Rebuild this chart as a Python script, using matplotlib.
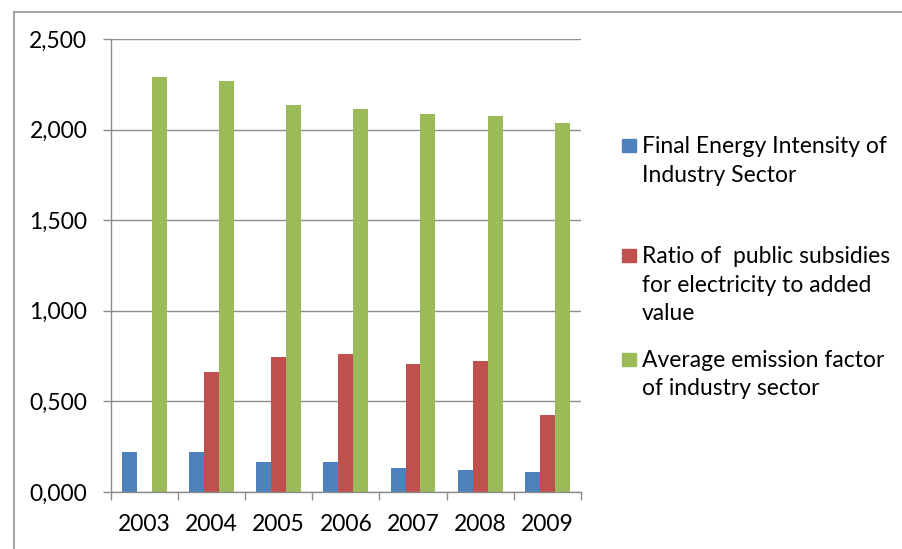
import matplotlib
matplotlib.use("Agg")
import matplotlib.pyplot as plt
from matplotlib.lines import Line2D
from matplotlib.patches import Rectangle
from matplotlib.ticker import FuncFormatter, FixedLocator
import numpy as np

years = ["2003", "2004", "2005", "2006", "2007", "2008", "2009"]
energy_intensity = [0.221, 0.221, 0.163, 0.163, 0.130, 0.121, 0.112]
subsidies_ratio = [0.0, 0.661, 0.745, 0.763, 0.705, 0.721, 0.427]
emission_factor = [2.292, 2.270, 2.134, 2.114, 2.086, 2.075, 2.036]

series_names = [
    "Final Energy Intensity of\nIndustry Sector",
    "Ratio of  public subsidies\nfor electricity to added\nvalue",
    "Average emission factor\nof industry sector",
]
colors = ["#4F81BD", "#C0504D", "#9BBB59"]
y_ticks = [0.0, 0.5, 1.0, 1.5, 2.0, 2.5]

plt.rcParams["font.family"] = ["Lato", "DejaVu Sans"]
FS = 16.5

W, H = 902, 549
fig = plt.figure(figsize=(W / 100, H / 100), dpi=100)
ax = fig.add_axes([110.7 / W, 1 - 492 / H, (581 - 110.7) / W, (492 - 39) / H])

x = np.arange(len(years))
bw = 0.222
for i, (vals, c) in enumerate(zip([energy_intensity, subsidies_ratio, emission_factor], colors)):
    ax.bar(x + (i - 1) * bw, vals, width=bw, color=c, zorder=3)

grid_c = "#8C8C8C"
ax.set_xlim(-0.5, len(years) - 0.5)
ax.set_ylim(0, 2.5)
ax.yaxis.set_major_locator(FixedLocator(y_ticks))
ax.yaxis.set_major_formatter(FuncFormatter(lambda v, p: f"{v:.3f}".replace(".", ",")))
ax.set_xticks(x)
ax.set_xticklabels(years)
ax.set_xticks(np.arange(-0.5, len(years)), minor=True)
ax.tick_params(axis="x", which="major", length=0, pad=16, labelsize=FS, labelcolor="black")
ax.tick_params(axis="x", which="minor", length=5.5, width=1, color=grid_c, direction="out")
ax.tick_params(axis="y", length=5.8, width=1, color=grid_c, direction="out", pad=11,
               labelsize=FS, labelcolor="black")
ax.grid(axis="y", color=grid_c, linewidth=1, zorder=0)
for s in ["top", "right"]:
    ax.spines[s].set_visible(False)
for s in ["left", "bottom"]:
    ax.spines[s].set_color(grid_c)
    ax.spines[s].set_linewidth(1)
    ax.spines[s].set_zorder(4)

# legend: swatch plus wrapped label lines, placed by baseline
legend_baselines = [153.3, 263.3, 366.7]
line_step = 28.5
for name, c, yb in zip(series_names, colors, legend_baselines):
    fig.patches.append(Rectangle((622 / W, 1 - (yb - 1) / H), 14 / W, 13 / H,
                                 transform=fig.transFigure, color=c))
    for k, line in enumerate(name.split("\n")):
        fig.text(642 / W, 1 - (yb + k * line_step) / H, line, fontsize=FS,
                 va="baseline", ha="left", color="black")

# chart-area border
border = "#A6A6A6"
fig.add_artist(Line2D([14 / W, 1.0], [1 - 12 / H, 1 - 12 / H], transform=fig.transFigure,
                      color=border, linewidth=1.5))
fig.add_artist(Line2D([14 / W, 14 / W], [0, 1 - 12 / H], transform=fig.transFigure,
                      color=border, linewidth=1.5))

fig.savefig("out.png", dpi=100)
